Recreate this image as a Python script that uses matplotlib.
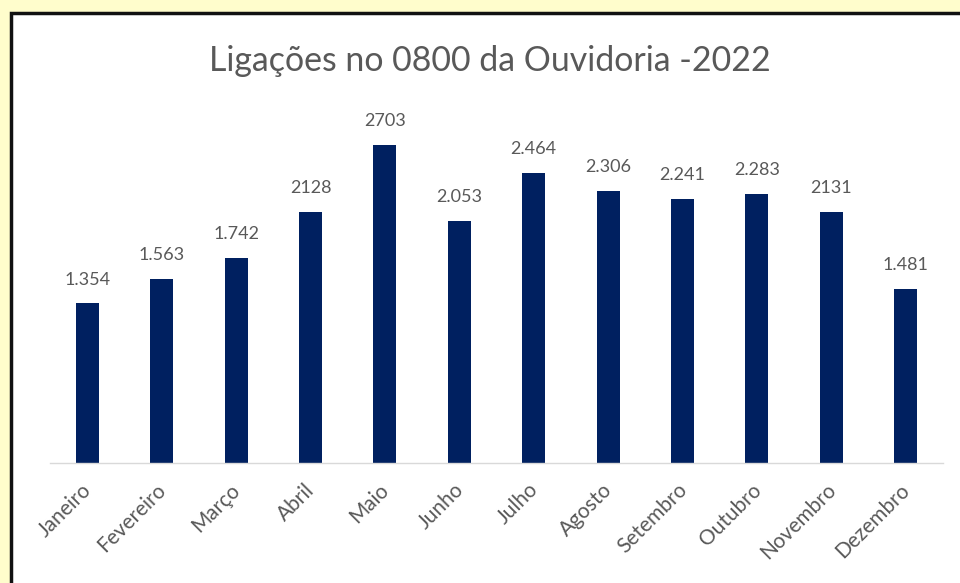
import matplotlib
matplotlib.use("Agg")
import matplotlib.pyplot as plt
from matplotlib.patches import Rectangle
from matplotlib.lines import Line2D

months = ["Janeiro", "Fevereiro", "Março", "Abril", "Maio", "Junho", "Julho",
          "Agosto", "Setembro", "Outubro", "Novembro", "Dezembro"]
values = [1354, 1563, 1742, 2128, 2703, 2053, 2464, 2306, 2241, 2283, 2131, 1481]
value_labels = ["1.354", "1.563", "1.742", "2128", "2703", "2.053", "2.464",
                "2.306", "2.241", "2.283", "2131", "1.481"]
title = "Ligações no 0800 da Ouvidoria -2022"

plt.rcParams['font.family'] = ['Lato', 'DejaVu Sans']
W, H = 960, 583
fig = plt.figure(figsize=(W / 100, H / 100), dpi=100)
fig.patch.set_facecolor("#FFFDCC")

# white chart area with dark top/left border (background axes)
bg = fig.add_axes([0, 0, 1, 1], zorder=-1)
bg.set_xlim(0, W)
bg.set_ylim(H, 0)
bg.axis("off")
bg.add_patch(Rectangle((11, 13), W, H, facecolor="white", edgecolor="none"))
bg.add_line(Line2D([11, 11, W], [H, 13, 13], color="#111111", linewidth=2.5,
                   solid_joinstyle="miter"))

left, right, base = 50, 943, 463
ymax = 3000
ppu = 0.1178
ax = fig.add_axes([left / W, (H - base) / H, (right - left) / W, ymax * ppu / H], zorder=1)
ax.set_facecolor("none")
x = list(range(len(months)))
ax.bar(x, values, width=0.31, color="#002060", zorder=2)
ax.set_xlim(-0.5, len(months) - 0.5)
ax.set_ylim(0, ymax)
for xi, v, lab in zip(x, values, value_labels):
    ax.text(xi, v + 135, lab, ha="center", va="bottom", fontsize=13, color="#595959")
ax.set_xticks(x)
ax.set_xticklabels([])
for xi, m in zip(x, months):
    ax.annotate(m, xy=(xi, 0), xycoords="data", xytext=(-4.3, -12),
                textcoords="offset points", rotation=45, ha="right", va="top",
                rotation_mode="anchor", fontsize=15, color="#595959",
                annotation_clip=False)
ax.tick_params(axis="x", length=0)
ax.set_yticks([])
for s in ["top", "right", "left"]:
    ax.spines[s].set_visible(False)
ax.spines["bottom"].set_color("#D9D9D9")
ax.spines["bottom"].set_linewidth(1)

fig.text(490 / W, (H - 61) / H, title, ha="center", va="center", fontsize=24.4, color="#595959")

fig.savefig("out.png", dpi=100, facecolor=fig.get_facecolor())
